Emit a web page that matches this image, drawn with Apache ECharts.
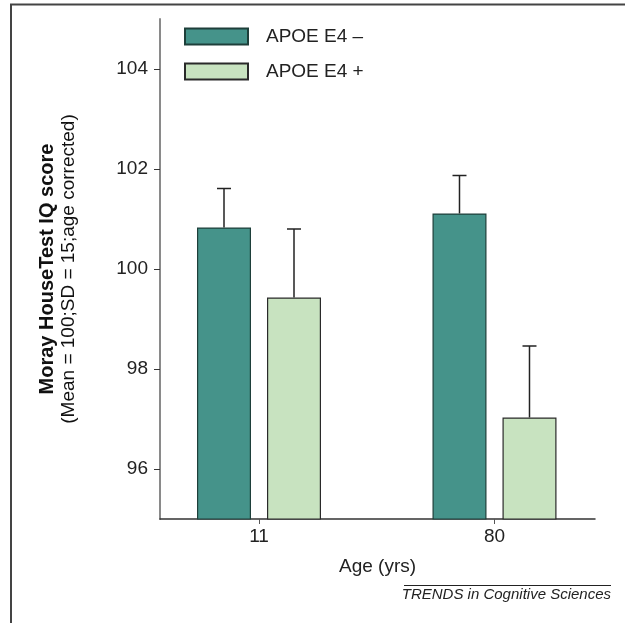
<!DOCTYPE html>
<html>
<head>
<meta charset="utf-8">
<script src="https://cdn.jsdelivr.net/npm/echarts@6/dist/echarts.min.js"></script>
<style>html,body{margin:0;padding:0;background:#fff}#c{width:625px;height:623px}</style>
</head>
<body>
<div id="c"></div>
<script>
const categories = ['11', '80'];
const seriesNames = ['APOE E4 \u2013', 'APOE E4 +'];
const meanNeg = [100.83, 101.11];
const meanPos = [99.43, 97.03];
const errTopNeg = [101.61, 101.87];
const errTopPos = [100.80, 98.46];
const yTicks = [96, 98, 100, 102, 104];

const BAR_W = 54, BAR_GAP_PX = 16;
const FONT = 'Liberation Sans, Arial, sans-serif';

const chart = echarts.init(document.getElementById('c'));

function errSeries(means, tops, offset) {
  return {
    type: 'custom',
    silent: true,
    z: 5,
    data: means.map((m, i) => [i, m, tops[i]]),
    renderItem: function (params, api) {
      const b = api.coord([api.value(0), api.value(1)]);
      const t = api.coord([api.value(0), api.value(2)]);
      const x = b[0] + offset;
      return {
        type: 'group',
        children: [
          {type: 'line', shape: {x1: x, y1: b[1], x2: x, y2: t[1]}, style: {stroke: '#222', lineWidth: 1.5}},
          {type: 'line', shape: {x1: x - 7, y1: t[1], x2: x + 7, y2: t[1]}, style: {stroke: '#222', lineWidth: 1.5}}
        ]
      };
    }
  };
}

const half = (BAR_W + BAR_GAP_PX) / 2;

chart.setOption({
  animation: false,
  grid: {left: 160, right: 30, top: 19, bottom: 104},
  legend: {
    orient: 'vertical', left: 179, top: 22,
    itemWidth: 63, itemHeight: 16, itemGap: 16,
    icon: 'rect',
    data: seriesNames,
    textStyle: {fontFamily: FONT, fontSize: 19, color: '#222', padding: [0, 0, 0, 13]}
  },
  xAxis: {
    type: 'value', min: -0.4204, max: 1.4268,
    splitLine: {show: false},
    axisLine: {show: true, onZero: false, lineStyle: {color: '#333', width: 1.5}},
    axisTick: {show: true, length: 5, customValues: [0, 1], lineStyle: {color: '#555'}},
    axisLabel: {customValues: [0, 1], formatter: v => categories[Math.round(v)], fontFamily: FONT, fontSize: 19, color: '#222', margin: 8},
    name: 'Age (yrs)', nameLocation: 'middle', nameGap: 38,
    nameTextStyle: {fontFamily: FONT, fontSize: 19, color: '#222'}
  },
  yAxis: {
    type: 'value', min: 95, max: 105,
    splitLine: {show: false},
    axisLine: {show: true, onZero: false, lineStyle: {color: '#8a8a8a', width: 2}},
    axisTick: {show: true, length: 6, customValues: yTicks, lineStyle: {color: '#333'}},
    axisLabel: {customValues: yTicks, fontFamily: FONT, fontSize: 19, color: '#222', margin: 12},
    name: '{a|Moray HouseTest IQ score}\n{b|(Mean = 100;SD = 15;age corrected)}',
    nameLocation: 'middle', nameRotate: 90, nameGap: 80,
    nameTextStyle: {
      rich: {
        a: {fontFamily: FONT, fontSize: 20, fontWeight: 'bold', color: '#111', lineHeight: 22},
        b: {fontFamily: FONT, fontSize: 19, color: '#111', lineHeight: 22}
      }
    }
  },
  series: [
    {
      name: seriesNames[0], type: 'bar', barWidth: BAR_W, barGap: (BAR_GAP_PX / BAR_W * 100) + '%',
      data: meanNeg.map((v, i) => [i, v]),
      itemStyle: {color: '#45938a', borderColor: '#1e3f3a', borderWidth: 1.2}
    },
    {
      name: seriesNames[1], type: 'bar', barWidth: BAR_W, barGap: (BAR_GAP_PX / BAR_W * 100) + '%',
      data: meanPos.map((v, i) => [i, v]),
      itemStyle: {color: '#c8e3c0', borderColor: '#2a2a2a', borderWidth: 1.2}
    },
    errSeries(meanNeg, errTopNeg, -half),
    errSeries(meanPos, errTopPos, half)
  ],
  graphic: [
    {type: 'line', shape: {x1: 10, y1: 4.5, x2: 625, y2: 4.5}, style: {stroke: '#444', lineWidth: 2}},
    {type: 'line', shape: {x1: 11, y1: 4, x2: 11, y2: 623}, style: {stroke: '#444', lineWidth: 2}},
    {type: 'line', shape: {x1: 404, y1: 585.5, x2: 611, y2: 585.5}, style: {stroke: '#222', lineWidth: 1}},
    {type: 'text', right: 14, top: 587, style: {text: 'TRENDS in Cognitive Sciences', font: 'italic 15px ' + FONT, fill: '#222'}}
  ]
});
</script>
</body>
</html>
